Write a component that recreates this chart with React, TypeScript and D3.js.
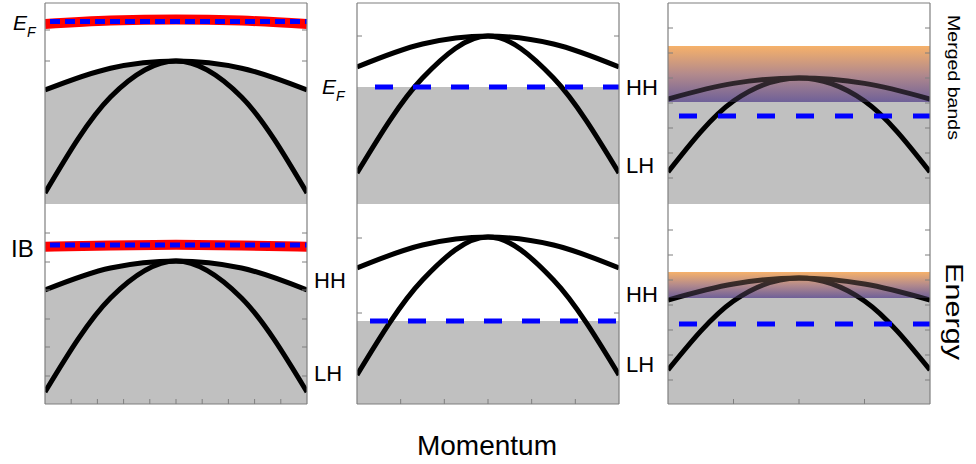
import React, { useEffect, useRef } from 'react';
import * as d3 from 'd3';

// momentum sample points across each panel (-1 .. 1)
const momentum = [-1, -0.5, 0, 0.5, 1];

// band energies (0 = panel bottom, 10 = panel top)
const hhTopLeft = [5.65, 6.74, 7.1, 6.74, 5.65];
const lhTopLeft = [0.5, 5.3, 7.1, 5.3, 0.5];
const ibTopLeft = [8.95, 9.12, 9.18, 9.12, 8.95];
const hhTopMid = [6.8, 7.95, 8.35, 7.95, 6.8];
const lhTopMid = [1.5, 6.25, 8.35, 6.25, 1.5];
const hhTopRight = [5.2, 5.98, 6.25, 5.98, 5.2];
const lhTopRight = [1.55, 5.1, 6.25, 5.1, 1.55];

const hhBotLeft = [5.7, 6.8, 7.15, 6.8, 5.7];
const lhBotLeft = [0.6, 5.3, 7.15, 5.3, 0.6];
const ibBotLeft = [7.86, 7.93, 7.96, 7.93, 7.86];
const hhBotMid = [6.8, 7.95, 8.35, 7.95, 6.8];
const lhBotMid = [1.45, 6.2, 8.35, 6.2, 1.45];
const hhBotRight = [5.2, 6.0, 6.3, 6.0, 5.2];
const lhBotRight = [1.7, 5.15, 6.3, 5.15, 1.7];

// Fermi level per panel (left, middle, right)
const fermiTop = [9.08, 5.8, 4.35];
const fermiBottom = [7.95, 4.15, 4.0];

// merged band window [bottom, top] in the right column
const mergedTop = [5.05, 7.85];
const mergedBottom = [5.3, 6.6];

// axis ticks
const xTicksLeft = [-0.8, -0.6, -0.4, -0.2, 0, 0.2, 0.4, 0.6, 0.8];
const xTicksMid = [-2 / 3, -1 / 3, 0, 1 / 3, 2 / 3];
const xTicksRight = [-0.5, 0, 0.5];
const yTicksTopLeft = [1.0, 2.55, 4.1, 5.6, 7.1, 8.65];
const yTicksTopMid = [0.85, 4.6, 8.35];
const yTicksTopRight = [1.25, 2.5, 3.75, 5.0, 6.25, 7.5, 8.75];
const yTicksBotLeft = [1.4, 2.85, 4.25, 5.7, 7.1, 8.55];
const yTicksBotMid = [0.8, 4.55, 8.3];
const yTicksBotRight = [1.2, 2.45, 3.7, 4.95, 6.2, 7.45, 8.7];

const FONT = "'Liberation Sans', Arial, sans-serif";

const App: React.FC = () => {
    const chartRef = useRef<SVGSVGElement>(null);

    useEffect(() => {
        if (!chartRef.current) return;
        const svg = d3.select(chartRef.current);
        svg.selectAll('*').remove();

        // gradient for the merged bands
        const defs = svg.append('defs');
        const grad = defs.append('linearGradient')
            .attr('id', 'merged')
            .attr('x1', 0).attr('y1', 0).attr('x2', 0).attr('y2', 1);
        grad.append('stop').attr('offset', '0%').attr('stop-color', '#f6b16a');
        grad.append('stop').attr('offset', '50%').attr('stop-color', '#b38a8c');
        grad.append('stop').attr('offset', '100%').attr('stop-color', '#6f6098');

        const colX = [45, 357, 668];
        const panelW = 262;
        const rows = [{ top: 3, h: 201 }, { top: 204, h: 200 }];

        const panels = [
            { row: 0, col: 0, hh: hhTopLeft, lh: lhTopLeft, ib: ibTopLeft, ef: fermiTop[0], yTicks: yTicksTopLeft, xTicks: null, ticksOver: false, dash: '10 5', dashStart: 50 },
            { row: 0, col: 1, hh: hhTopMid, lh: lhTopMid, ef: fermiTop[1], yTicks: yTicksTopMid, xTicks: null, ticksOver: false, dash: '18 20', dashStart: 375 },
            { row: 0, col: 2, hh: hhTopRight, lh: lhTopRight, ef: fermiTop[2], merged: mergedTop, yTicks: yTicksTopRight, xTicks: null, ticksOver: true, dash: '18 21', dashStart: 679 },
            { row: 1, col: 0, hh: hhBotLeft, lh: lhBotLeft, ib: ibBotLeft, ef: fermiBottom[0], yTicks: yTicksBotLeft, xTicks: xTicksLeft, ticksOver: true, dash: '10 5', dashStart: 50 },
            { row: 1, col: 1, hh: hhBotMid, lh: lhBotMid, ef: fermiBottom[1], yTicks: yTicksBotMid, xTicks: xTicksMid, ticksOver: false, dash: '18 20', dashStart: 370 },
            { row: 1, col: 2, hh: hhBotRight, lh: lhBotRight, ef: fermiBottom[2], merged: mergedBottom, yTicks: yTicksBotRight, xTicks: xTicksRight, ticksOver: true, dash: '18 21', dashStart: 679 },
        ];

        const frameColor = '#7f7f7f';
        const tickLen = 5;

        panels.forEach((p: any, i) => {
            const x0 = colX[p.col];
            const { top, h } = rows[p.row];
            const x = d3.scaleLinear().domain([-1, 1]).range([x0, x0 + panelW]);
            const y = d3.scaleLinear().domain([0, 10]).range([top + 200, top]);
            const bottom = top + h;

            defs.append('clipPath').attr('id', `clip-${i}`)
                .append('rect').attr('x', x0).attr('y', top).attr('width', panelW).attr('height', h);

            const g = svg.append('g');
            const under = g.append('g');
            const inner = g.append('g').attr('clip-path', `url(#clip-${i})`);
            const over = g.append('g');

            // y ticks on both sides, pointing inward
            const tickLayer = p.ticksOver ? over : under;
            tickLayer.selectAll(null).data(p.yTicks as number[]).enter().append('line')
                .attr('x1', x0).attr('x2', x0 + tickLen)
                .attr('y1', d => y(d)).attr('y2', d => y(d))
                .attr('stroke', frameColor).attr('stroke-width', 1);
            tickLayer.selectAll(null).data(p.yTicks as number[]).enter().append('line')
                .attr('x1', x0 + panelW).attr('x2', x0 + panelW - tickLen)
                .attr('y1', d => y(d)).attr('y2', d => y(d))
                .attr('stroke', frameColor).attr('stroke-width', 1);

            const line = d3.line<number>()
                .x((_, k) => x(momentum[k]))
                .y(d => y(d))
                .curve(d3.curveMonotoneX);

            // occupied states
            if (p.col === 0) {
                const area = d3.area<number>()
                    .x((_, k) => x(momentum[k]))
                    .y0(bottom)
                    .y1(d => y(d))
                    .curve(d3.curveMonotoneX);
                inner.append('path').attr('d', area(p.hh)).attr('fill', '#c0c0c0');
            } else {
                const fillTop = p.merged ? p.merged[0] : p.ef;
                inner.append('rect')
                    .attr('x', x0).attr('width', panelW)
                    .attr('y', y(fillTop)).attr('height', bottom - y(fillTop))
                    .attr('fill', '#c0c0c0');
            }

            if (p.merged) {
                inner.append('rect')
                    .attr('x', x0).attr('width', panelW)
                    .attr('y', y(p.merged[1])).attr('height', y(p.merged[0]) - y(p.merged[1]))
                    .attr('fill', 'url(#merged)');
            }

            if (p.ib) {
                inner.append('path').attr('d', line(p.ib))
                    .attr('fill', 'none').attr('stroke', '#ff0000').attr('stroke-width', 10);
            }

            [p.hh, p.lh].forEach((band: number[]) => {
                inner.append('path').attr('d', line(band))
                    .attr('fill', 'none').attr('stroke', '#000').attr('stroke-width', 5);
            });

            if (p.merged) {
                inner.append('rect')
                    .attr('x', x0).attr('width', panelW)
                    .attr('y', y(p.merged[1])).attr('height', y(p.merged[0]) - y(p.merged[1]))
                    .attr('fill', 'url(#merged)').attr('opacity', 0.3);
            }

            // Fermi level
            inner.append('line')
                .attr('x1', p.dashStart).attr('x2', x0 + panelW)
                .attr('y1', y(p.ef)).attr('y2', y(p.ef))
                .attr('stroke', '#0000ff').attr('stroke-width', 5)
                .attr('stroke-dasharray', p.dash);

            if (p.xTicks) {
                over.selectAll(null).data(p.xTicks as number[]).enter().append('line')
                    .attr('x1', d => x(d)).attr('x2', d => x(d))
                    .attr('y1', bottom).attr('y2', bottom - tickLen)
                    .attr('stroke', frameColor).attr('stroke-width', 1);
            }

            // frame
            const frame = over.append('g').attr('stroke', frameColor).attr('stroke-width', 1.2);
            frame.append('line').attr('x1', x0).attr('x2', x0).attr('y1', top).attr('y2', bottom);
            frame.append('line').attr('x1', x0 + panelW).attr('x2', x0 + panelW).attr('y1', top).attr('y2', bottom);
            if (p.row === 0) frame.append('line').attr('x1', x0).attr('x2', x0 + panelW).attr('y1', top).attr('y2', top);
            else frame.append('line').attr('x1', x0).attr('x2', x0 + panelW).attr('y1', bottom).attr('y2', bottom);
        });

        // labels
        const label = (tx: number, ty: number, s: string, size = 22) =>
            svg.append('text').attr('x', tx).attr('y', ty)
                .attr('font-family', FONT).attr('font-size', size).attr('fill', '#000').text(s);

        const ef = (tx: number, ty: number) => {
            const t = svg.append('text').attr('x', tx).attr('y', ty)
                .attr('font-family', FONT).attr('font-style', 'italic').attr('fill', '#000');
            t.append('tspan').attr('font-size', 21).text('E');
            t.append('tspan').attr('font-size', 14).attr('dy', 7).text('F');
        };
        ef(13, 30);
        ef(322, 94);

        label(11, 257, 'IB', 24);
        label(314, 288, 'HH');
        label(314, 381, 'LH');
        label(626, 95, 'HH');
        label(626, 173, 'LH');
        label(626, 302, 'HH');
        label(626, 372, 'LH');

        svg.append('text')
            .attr('transform', 'translate(948,15) rotate(90)')
            .attr('font-family', FONT).attr('font-size', 17)
            .attr('textLength', 125).attr('lengthAdjust', 'spacingAndGlyphs')
            .text('Merged bands');

        svg.append('text')
            .attr('transform', 'translate(946,263) rotate(90)')
            .attr('font-family', FONT).attr('font-size', 23)
            .attr('textLength', 97).attr('lengthAdjust', 'spacingAndGlyphs')
            .text('Energy');

        svg.append('text')
            .attr('x', 487).attr('y', 455)
            .attr('text-anchor', 'middle')
            .attr('font-family', FONT).attr('font-size', 28)
            .text('Momentum');
    }, []);

    return (
        <svg ref={chartRef} width={976} height={464}
            style={{ position: 'absolute', left: 0, top: 0, background: '#fff' }} />
    );
};

export default App;
